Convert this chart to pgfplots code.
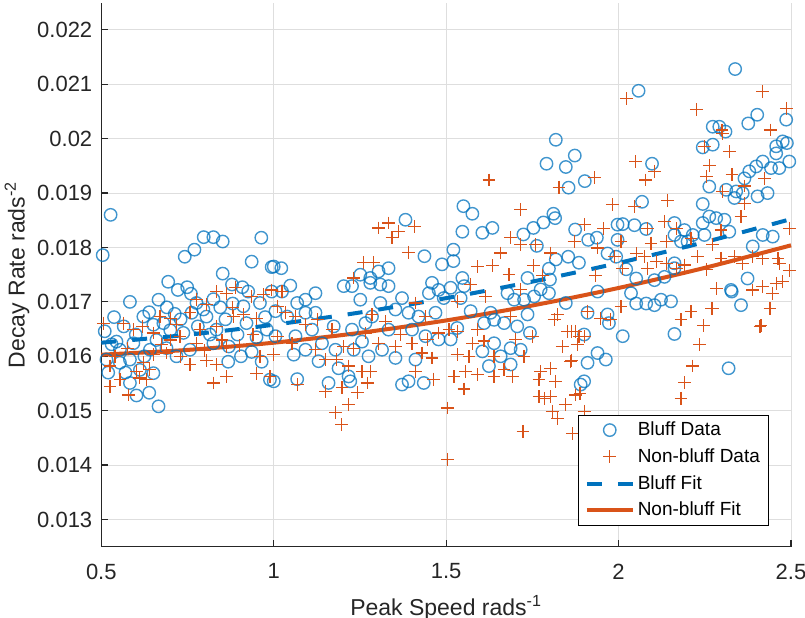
\documentclass[border=0pt]{standalone}
\usepackage{pgfplots}
\pgfplotsset{compat=1.18}
\usepackage{pgfplotstable}
\usepackage{fontspec}
\setmainfont{Liberation Sans}
\definecolor{mblue}{rgb}{0,0.447,0.741}
\definecolor{morange}{rgb}{0.85,0.325,0.098}
\definecolor{mgray}{rgb}{0.15,0.15,0.15}
\pgfplotsset{
  markleg/.style={legend image code/.code={\path[draw=none] (0pt,-1pt) rectangle (23pt,1pt); \draw[##1] plot coordinates {(11.5pt,0pt)};}},
  lineleg/.style={legend image code/.code={\draw[##1] (0pt,0pt) -- (23pt,0pt);}},
}

\pgfplotstableread{
x y
0.527 0.01860
0.504 0.01786
0.797 0.01819
0.825 0.01819
0.852 0.01811
0.770 0.01796
0.742 0.01783
0.964 0.01818
0.936 0.01774
0.994 0.01764
0.852 0.01752
0.694 0.01737
0.722 0.01722
0.749 0.01727
0.583 0.01700
0.666 0.01704
0.537 0.01672
0.622 0.01673
0.639 0.01681
0.713 0.01678
0.825 0.01705
0.879 0.01732
0.909 0.01727
0.926 0.01719
0.881 0.01697
0.912 0.01692
0.960 0.01698
0.994 0.01719
0.776 0.01698
0.796 0.01686
0.762 0.01680
0.805 0.01673
0.510 0.01646
0.544 0.01627
0.593 0.01624
0.651 0.01658
0.680 0.01661
0.738 0.01643
0.834 0.01649
0.921 0.01661
0.980 0.01649
0.515 0.01594
0.554 0.01588
0.583 0.01594
0.612 0.01575
0.651 0.01569
0.583 0.01551
0.602 0.01528
0.639 0.01533
0.666 0.01508
0.718 0.01600
0.757 0.01612
0.868 0.01590
0.936 0.01608
0.965 0.01590
0.989 0.01557
0.641 0.01612
0.689 0.01615
0.825 0.01624
0.554 0.01612
0.530 0.01622
0.565 0.01655
0.600 0.01640
0.660 0.01630
0.700 0.01648
0.730 0.01668
0.780 0.01655
0.815 0.01640
0.860 0.01668
0.895 0.01640
0.950 0.01635
0.975 0.01672
0.570 0.01570
0.625 0.01600
0.870 0.01618
0.905 0.01600
0.520 0.01570
0.690 0.01690
0.845 0.01690
0.760 0.01715
1.382 0.01851
1.437 0.01784
1.488 0.01769
1.000 0.01765
1.022 0.01762
1.048 0.01730
1.024 0.01719
1.121 0.01716
1.092 0.01704
1.068 0.01698
1.203 0.01729
1.227 0.01729
1.251 0.01750
1.280 0.01744
1.304 0.01756
1.333 0.01762
1.280 0.01735
1.309 0.01732
1.333 0.01729
1.251 0.01704
1.309 0.01698
1.372 0.01707
1.353 0.01686
1.459 0.01735
1.478 0.01722
1.450 0.01716
1.493 0.01707
1.005 0.01683
1.039 0.01673
1.092 0.01680
1.121 0.01680
1.174 0.01655
1.227 0.01649
1.266 0.01661
1.285 0.01673
1.333 0.01649
1.391 0.01680
1.420 0.01673
1.469 0.01680
1.111 0.01649
1.063 0.01637
1.005 0.01637
1.140 0.01624
1.179 0.01612
1.232 0.01612
1.275 0.01600
1.314 0.01612
1.353 0.01597
1.401 0.01649
1.440 0.01637
1.478 0.01631
1.058 0.01603
1.130 0.01591
1.188 0.01578
1.217 0.01563
1.222 0.01554
1.159 0.01551
1.068 0.01558
1.000 0.01554
1.372 0.01548
1.391 0.01554
1.435 0.01551
1.411 0.01594
1.256 0.01627
1.092 0.01612
1.791 0.01954
1.847 0.01948
1.873 0.01969
1.902 0.01922
1.855 0.01910
1.550 0.01876
1.576 0.01862
1.547 0.01829
1.605 0.01827
1.634 0.01836
1.724 0.01824
1.753 0.01836
1.782 0.01846
1.811 0.01862
1.816 0.01854
1.874 0.01833
1.912 0.01814
1.937 0.01818
1.968 0.01789
1.997 0.01842
1.763 0.01803
1.521 0.01796
1.521 0.01775
1.818 0.01778
1.854 0.01783
1.885 0.01772
1.798 0.01761
1.801 0.01741
1.736 0.01744
1.774 0.01723
1.798 0.01716
1.939 0.01719
1.547 0.01744
1.513 0.01726
1.542 0.01707
1.678 0.01716
1.697 0.01704
1.726 0.01704
1.755 0.01710
1.847 0.01698
1.910 0.01680
1.968 0.01677
1.972 0.01661
1.571 0.01683
1.629 0.01680
1.736 0.01677
1.532 0.01652
1.610 0.01661
1.668 0.01661
1.706 0.01655
1.639 0.01667
1.743 0.01643
1.513 0.01631
1.900 0.01640
1.605 0.01609
1.639 0.01624
1.658 0.01600
1.687 0.01615
1.716 0.01612
1.624 0.01582
1.687 0.01585
1.910 0.01588
1.939 0.01606
1.963 0.01594
1.890 0.01548
1.900 0.01554
1.552 0.01729
1.818 0.01998
2.338 0.02128
2.058 0.02088
2.402 0.02044
2.376 0.02028
2.486 0.02035
2.273 0.02022
2.292 0.02022
2.310 0.02013
2.244 0.01984
2.273 0.01989
2.457 0.01986
2.476 0.01995
2.488 0.01992
2.457 0.01973
2.418 0.01958
2.399 0.01949
2.379 0.01940
2.365 0.01927
2.442 0.01946
2.466 0.01946
2.495 0.01958
2.097 0.01954
2.263 0.01912
2.312 0.01906
2.341 0.01903
2.360 0.01900
2.336 0.01891
2.403 0.01894
2.432 0.01900
2.068 0.01884
2.244 0.01880
2.012 0.01843
2.046 0.01841
2.080 0.01834
2.162 0.01845
2.191 0.01832
2.215 0.01823
2.244 0.01845
2.263 0.01857
2.283 0.01854
2.307 0.01851
2.321 0.01829
2.249 0.01823
2.162 0.01823
2.181 0.01811
2.200 0.01811
2.389 0.01802
2.418 0.01823
2.447 0.01820
1.997 0.01814
1.993 0.01783
2.022 0.01760
2.051 0.01743
2.104 0.01740
2.133 0.01746
2.162 0.01771
2.162 0.01762
2.374 0.01743
2.326 0.01722
2.355 0.01694
2.036 0.01716
2.051 0.01697
2.080 0.01697
2.104 0.01694
2.123 0.01704
2.152 0.01701
2.012 0.01637
2.162 0.01641
2.319 0.01578
2.328 0.01719
}\bluffdata

\pgfplotstableread{
x y
0.834 0.01719
0.863 0.01716
0.888 0.01726
0.936 0.01710
0.970 0.01713
0.994 0.01722
0.776 0.01704
0.805 0.01695
0.757 0.01680
0.670 0.01673
0.564 0.01661
0.593 0.01649
0.651 0.01643
0.718 0.01658
0.786 0.01649
0.834 0.01655
0.883 0.01673
0.912 0.01677
0.950 0.01670
0.506 0.01661
0.675 0.01621
0.728 0.01637
0.776 0.01624
0.863 0.01618
0.757 0.01585
0.805 0.01593
0.834 0.01585
0.825 0.01551
0.863 0.01563
0.950 0.01569
0.989 0.01563
0.525 0.01582
0.525 0.01545
0.554 0.01557
0.602 0.01572
0.631 0.01557
0.578 0.01529
0.622 0.01588
0.651 0.01603
0.689 0.01606
0.540 0.01600
0.575 0.01615
0.610 0.01560
0.640 0.01575
0.700 0.01630
0.730 0.01600
0.800 0.01610
0.850 0.01630
0.900 0.01620
0.940 0.01640
0.960 0.01600
0.700 0.01670
0.620 0.01655
0.880 0.01690
1.304 0.01836
1.333 0.01845
1.362 0.01830
1.343 0.01818
1.409 0.01838
1.390 0.01791
1.261 0.01772
1.290 0.01772
1.232 0.01744
1.024 0.01719
1.010 0.01692
1.034 0.01680
1.063 0.01673
1.092 0.01658
1.010 0.01637
1.053 0.01624
1.121 0.01612
1.150 0.01594
1.183 0.01594
1.203 0.01618
1.232 0.01615
1.217 0.01582
1.256 0.01572
1.280 0.01572
1.271 0.01551
1.198 0.01542
1.242 0.01533
1.150 0.01536
1.217 0.01511
1.179 0.01496
1.068 0.01548
1.000 0.01603
1.285 0.01677
1.324 0.01664
1.266 0.01643
1.304 0.01624
1.367 0.01640
1.401 0.01624
1.411 0.01698
1.440 0.01673
1.445 0.01631
1.430 0.01606
1.459 0.01597
1.411 0.01572
1.464 0.01558
1.478 0.01643
1.353 0.01618
1.169 0.01649
1.126 0.01667
1.197 0.01474
1.624 0.01924
1.827 0.01911
1.931 0.01928
1.982 0.01879
1.716 0.01870
1.900 0.01842
1.956 0.01835
1.687 0.01818
1.716 0.01805
1.760 0.01805
1.658 0.01790
1.871 0.01811
1.939 0.01799
1.987 0.01784
1.803 0.01790
1.591 0.01765
1.634 0.01767
1.753 0.01767
1.682 0.01750
1.779 0.01748
1.571 0.01732
1.934 0.01748
1.615 0.01710
1.716 0.01723
1.532 0.01701
1.910 0.01683
1.948 0.01670
1.977 0.01667
1.687 0.01673
1.823 0.01677
1.813 0.01667
1.851 0.01646
1.876 0.01646
1.885 0.01637
1.508 0.01649
1.532 0.01646
1.591 0.01649
1.576 0.01624
1.532 0.01603
1.566 0.01600
1.610 0.01628
1.702 0.01631
1.750 0.01637
1.837 0.01618
1.880 0.01621
1.639 0.01600
1.726 0.01600
1.861 0.01591
1.523 0.01563
1.557 0.01572
1.591 0.01566
1.639 0.01563
1.692 0.01563
1.668 0.01575
1.774 0.01572
1.803 0.01578
1.769 0.01557
1.818 0.01554
1.552 0.01540
1.769 0.01526
1.803 0.01526
1.847 0.01511
1.876 0.01529
1.808 0.01499
1.900 0.01499
1.503 0.01505
1.723 0.01462
1.866 0.01458
1.504 0.01410
1.823 0.01486
1.784 0.01523
1.864 0.01593
1.888 0.01532
1.864 0.01646
1.902 0.01636
2.022 0.02074
2.418 0.02087
2.486 0.02056
2.225 0.02053
2.440 0.02016
2.300 0.02016
2.302 0.02010
2.321 0.01976
2.249 0.01986
2.049 0.01958
2.104 0.01940
2.078 0.01924
2.263 0.01950
2.254 0.01930
2.329 0.01934
2.423 0.01927
2.365 0.01913
2.302 0.01903
2.365 0.01881
2.142 0.01887
2.046 0.01875
2.355 0.01857
2.084 0.01835
2.133 0.01848
2.167 0.01835
2.210 0.01817
2.297 0.01832
2.495 0.01835
2.007 0.01811
2.094 0.01808
2.138 0.01811
2.051 0.01789
2.075 0.01783
2.109 0.01774
2.138 0.01771
2.191 0.01768
2.229 0.01783
2.273 0.01805
2.297 0.01780
2.336 0.01783
2.360 0.01771
2.389 0.01783
2.418 0.01780
2.462 0.01780
2.466 0.01771
2.012 0.01762
2.084 0.01762
2.167 0.01762
2.495 0.01757
2.254 0.01759
2.476 0.01737
2.457 0.01734
2.447 0.01716
2.418 0.01728
2.389 0.01722
2.283 0.01725
2.007 0.01691
2.210 0.01682
2.181 0.01667
2.273 0.01688
2.247 0.01656
2.234 0.01622
2.413 0.01656
2.439 0.01688
2.215 0.01582
2.191 0.01552
2.181 0.01523
2.270 0.01688
2.410 0.01655
}\nonbluffdata

\pgfplotstableread{
x y
0.50 0.016250
0.75 0.016395
1.00 0.016580
1.25 0.016805
1.50 0.017069
1.75 0.017373
2.00 0.017716
2.25 0.018099
2.50 0.018522
}\blufffit

\pgfplotstableread{
x y
0.50 0.016030
0.75 0.016117
1.00 0.016250
1.25 0.016431
1.50 0.016659
1.75 0.016934
2.00 0.017256
2.25 0.017626
2.50 0.018040
}\nonblufffit

\begin{document}
\begin{tikzpicture}
\begin{axis}[
  width=344.85pt, height=272pt, scale only axis,
  xmin=0.5, xmax=2.5, ymin=0.0125, ymax=0.0225,
  axis x line*=bottom, axis y line*=left,
  xtick={0.5,1,1.5,2,2.5},
  ytick={0.013,0.014,0.015,0.016,0.017,0.018,0.019,0.020,0.021,0.022},
  scaled y ticks=false,
  /pgf/number format/assume math mode=true,
  tick align=inside,
  major tick length=3.5pt,
  grid=major,
  grid style={line width=0.5pt, color=black!13},
  axis line style={mgray, line width=0.6pt},
  tick style={mgray, line width=0.6pt},
  ticklabel style={font=\fontsize{11}{13}\selectfont, text=mgray},
  xticklabel style={yshift=-5pt},
  yticklabel style={xshift=-1pt, /pgf/number format/fixed, /pgf/number format/precision=3},
  xlabel={Peak Speed rads\textsuperscript{-1}},
  ylabel={Decay Rate rads\textsuperscript{-2}},
  xlabel style={font=\fontsize{11.5}{13}\selectfont, text=mgray, at={(axis description cs:0.5,0)}, anchor=north, yshift=-21pt},
  ylabel style={font=\fontsize{11.5}{13}\selectfont, text=mgray, at={(axis description cs:-0.1222,0.5)}, anchor=center},
  clip=false,
  legend cell align=left,
  legend style={at={(axis description cs:0.9687,0.0386)}, anchor=south east,
    draw=black, line width=0.5pt, fill=white,
    font=\fontsize{9.5}{11}\selectfont, row sep=1pt, inner xsep=3pt, inner ysep=1.2pt,
    nodes={inner xsep=1.5pt}},
]
\addplot[mblue, only marks, mark=o, mark size=3.1pt, mark options={draw=mblue, draw opacity=0.75, line width=0.7pt}, markleg]
  table[x=x,y=y] {\bluffdata};
\addlegendentry{Bluff Data}
\addplot[morange, only marks, mark=+, mark size=3.2pt, mark options={draw=morange, line width=0.6pt}, markleg]
  table[x=x,y=y] {\nonbluffdata};
\addlegendentry{Non-bluff Data}
\addplot[mblue, line width=2pt, dash pattern=on 7.5pt off 8pt, smooth, lineleg]
  table[x=x,y=y] {\blufffit};
\addlegendentry{Bluff Fit}
\addplot[morange, line width=2pt, smooth, lineleg]
  table[x=x,y=y] {\nonblufffit};
\addlegendentry{Non-bluff Fit}
\coordinate (SW) at (rel axis cs:0,0);
\coordinate (NE) at (rel axis cs:1,1);
\end{axis}
\pgfresetboundingbox
\path ([shift={(-50.65pt,-35.65pt)}]SW) rectangle ([shift={(7pt,1.35pt)}]NE);
\end{tikzpicture}
\end{document}
